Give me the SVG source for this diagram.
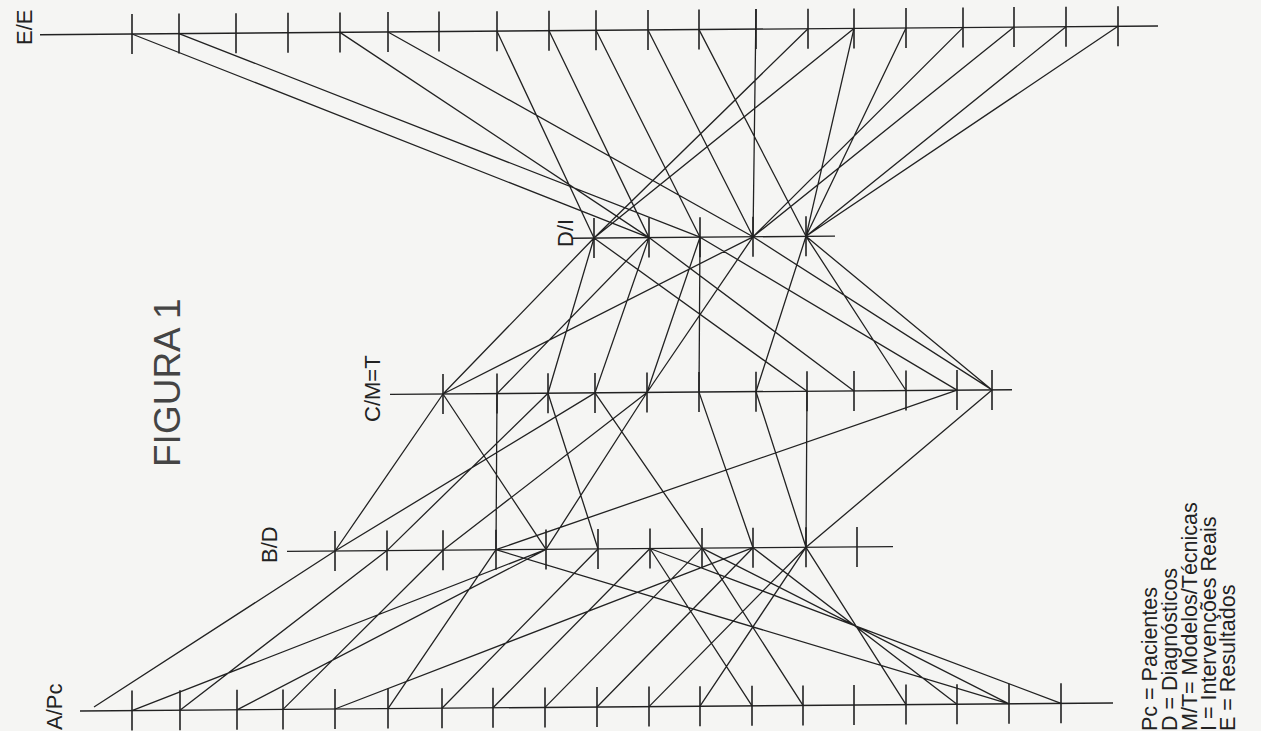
<svg xmlns="http://www.w3.org/2000/svg" width="1261" height="731" viewBox="0 0 1261 731">
<style>
.ax{stroke:#222;stroke-width:1.4;fill:none}
.tk{stroke:#222;stroke-width:1.6;fill:none}
.cn{stroke:#222;stroke-width:1.3;fill:none}
.lb{font-family:"Liberation Sans",Arial,sans-serif;font-size:22px;fill:#222}
.lg{font-family:"Liberation Sans",Arial,sans-serif;font-size:21.5px;fill:#222}
</style>
<rect width="1261" height="731" fill="#f5f5f3"/>
<text class="lb" transform="translate(180,467) rotate(-90)" style="font-size:37px;fill:#444">FIGURA 1</text>
<g id="axis-E">
<path class="ax" d="M40 34.7L1158 26"/>
<path class="tk" d="M132 14v40M179 13.6v40M236 13.2v40M288 12.8v40M340 12.4v40M388 12v40M439 11.6v40M497 11.2v40M549 10.7v40M596 10.3v40M648 10v40M699 9.6v40M756 9.1v40M808 8.7v40M854 8.4v40M906 8v40M963 7.6v40M1014 7.1v40M1066 6.7v40M1118 6.3v40"/>
<text class="lb" transform="translate(32,45) rotate(-90)">E/E</text>
</g>
<g id="axis-D">
<path class="ax" d="M572 238.2L835 236.1"/>
<path class="tk" d="M594 218v40M649 217.6v40M700 217.2v40M753 216.8v40M806 216.3v40"/>
<text class="lb" transform="translate(573,247) rotate(-90)">D/I</text>
</g>
<g id="axis-C">
<path class="ax" d="M390 394.4L1012 389.7"/>
<path class="tk" d="M443 374v40M497 373.6v40M548 373.2v40M595 372.9v40M647 372.5v40M699 372.1v40M756 371.7v40M807 371.3v40M854 370.9v40M906 370.5v40M957 370.1v40M992 369.9v40"/>
<text class="lb" transform="translate(380,422) rotate(-90)">C/M=T</text>
</g>
<g id="axis-B">
<path class="ax" d="M287 551.4L893 546.6"/>
<path class="tk" d="M335 531v40M387 530.6v40M443 530.2v40M496 529.7v40M546 529.4v40M598 529v40M650 528.5v40M702 528.1v40M753 527.7v40M806 527.3v40M857 526.9v40"/>
<text class="lb" transform="translate(277,563) rotate(-90)">B/D</text>
</g>
<g id="axis-A">
<path class="ax" d="M80 711L1113 703"/>
<path class="tk" d="M132 690.6v40M180 690.2v40M237 689.8v40M283 689.4v40M335 689v40M388 688.6v40M442 688.2v40M493 687.8v40M545 687.4v40M597 687v40M649 686.6v40M700 686.2v40M752 685.8v40M803 685.4v40M854 685v40M906 684.6v40M957 684.2v40M1009 683.8v40M1061 683.3v40"/>
<text class="lb" transform="translate(62,730) rotate(-90)">A/Pc</text>
</g>
<g id="connectors" class="cn">
<path d="M132 34L649 237.6M179 33.6L700 237.2M340 32.4L649 237.6M388 32L753 236.8M497 31.2L594 238M549 30.7L649 237.6M596 30.3L700 237.2M648 30L753 236.8M699 29.6L806 236.3M756 9L753 236.8M808 28.7L594 238M854 28.4L594 238M854 28.4L806 236.3M906 28L806 236.3M963 27.6L753 236.8M1014 27.1L753 236.8M1066 26.7L806 236.3M1118 26.3L806 236.3"/>
<path d="M443 394L594 238M443 394L753 236.8M497 393.6L649 237.6M548 393.2L594 238M595 392.9L649 237.6M647 392.5L700 237.2M647 392.5L753 236.8M699 392.1L700 237.2M756 391.7L806 236.3M594 238L807 391.3M649 237.6L854 390.9M806 236.3L992 389.9M806 236.3L906 390.5M753 236.8L992 389.9M700 237.2L957 390.1"/>
<path d="M335 551L443 394M335 551L595 392.9M443 394L546 549.4M497 393.6L496 549.7M548 393.2L598 549M595 392.9L702 548.1M647 392.5L546 549.4M699 392.1L753 547.7M756 391.7L806 547.3M807 391.3L806 547.3M496 549.7L957 390.1M992 389.9L806 547.3M387 550.6L548 393.2M443 550.2L647 392.5"/>
<path d="M94 707L335 551M132 710.6L546 549.4M180 710.2L387 550.6M237 709.8L546 549.4M283 709.4L443 550.2M335 709L753 547.7M388 708.6L496 549.7M442 708.2L598 549M493 707.8L650 548.5M545 707.4L702 548.1M597 707L753 547.7M649 706.6L806 547.3M700 706.2L806 547.3M752 705.8L650 548.5M803 705.4L702 548.1M906 704.6L806 547.3M957 704.2L753 547.7M1009 703.8L702 548.1M1061 703.3L650 548.5M496 549.7L1009 703.8"/>
</g>
<g id="legend">
<text class="lg" transform="translate(1157,731) rotate(-90)">Pc = Pacientes</text>
<text class="lg" transform="translate(1177,731) rotate(-90)">D = Diagnósticos</text>
<text class="lg" transform="translate(1197,731) rotate(-90)">M/T= Modelos/Técnicas</text>
<text class="lg" transform="translate(1216,731) rotate(-90)">I = Intervenções Reais</text>
<text class="lg" transform="translate(1235,731) rotate(-90)">E = Resultados</text>
</g>
</svg>
